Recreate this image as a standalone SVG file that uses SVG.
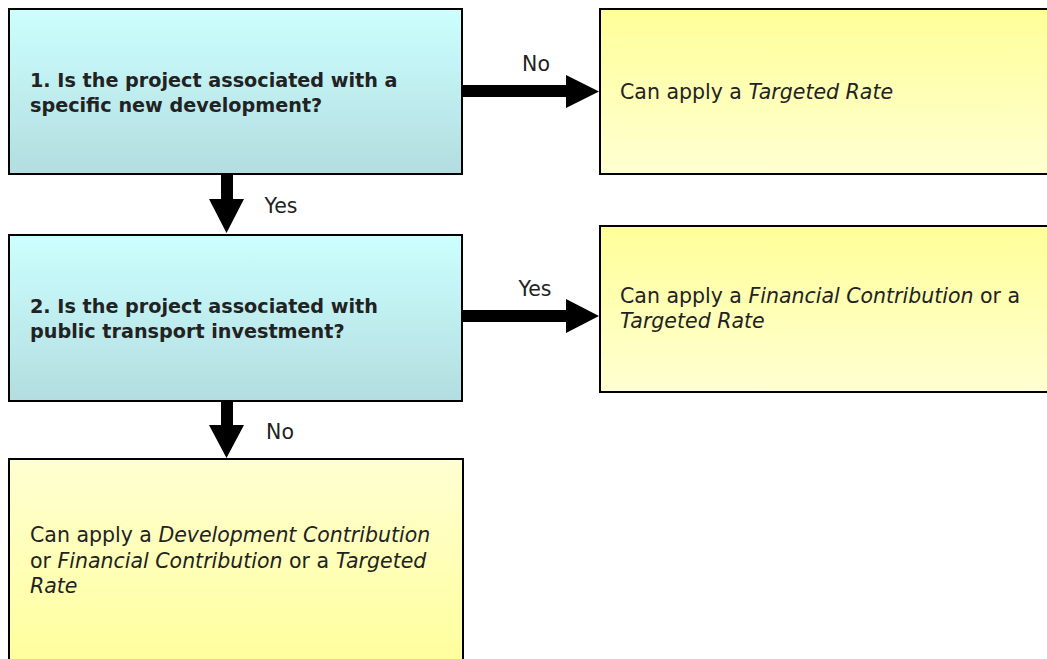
<svg xmlns="http://www.w3.org/2000/svg" width="1047" height="659" viewBox="0 0 1047 659">
<defs>
<linearGradient id="cyan" x1="0" y1="0" x2="0" y2="1"><stop offset="0" stop-color="#ccffff"/><stop offset="1" stop-color="#b3dde0"/></linearGradient>
<linearGradient id="yel" x1="0" y1="0" x2="0" y2="1"><stop offset="0" stop-color="#ffff99"/><stop offset="1" stop-color="#ffffd2"/></linearGradient>
<linearGradient id="yelr" x1="0" y1="0" x2="0" y2="1"><stop offset="0" stop-color="#ffffd2"/><stop offset="1" stop-color="#ffff99"/></linearGradient>
<style>
.box{stroke:#000;stroke-width:2}
.q{font-family:"DejaVu Sans",sans-serif;font-weight:bold;font-size:19.2px;fill:#222}
.t{font-family:"DejaVu Sans",sans-serif;font-size:20.5px;fill:#222}
.i{font-style:italic}
.lbl{font-family:"DejaVu Sans",sans-serif;font-size:20.5px;fill:#222;text-anchor:middle}
.shaft{fill:#000}
</style>
</defs>
<g id="q1">
<rect class="box" x="9" y="9" width="453" height="165" fill="url(#cyan)"/>
<text class="q" x="30" y="87">1. Is the project associated with a</text>
<text class="q" x="30" y="112">specific new development?</text>
</g>
<g id="r1">
<rect class="box" x="600" y="9" width="460" height="165" fill="url(#yel)"/>
<text class="t" x="620" y="99">Can apply a <tspan class="i">Targeted Rate</tspan></text>
</g>
<g id="q2">
<rect class="box" x="9" y="235" width="453" height="166" fill="url(#cyan)"/>
<text class="q" x="30" y="313">2. Is the project associated with</text>
<text class="q" x="30" y="338">public transport investment?</text>
</g>
<g id="r2">
<rect class="box" x="600" y="226" width="460" height="166" fill="url(#yel)"/>
<text class="t" x="620" y="303">Can apply a <tspan class="i">Financial Contribution</tspan> or a</text>
<text class="t" x="620" y="328"><tspan class="i">Targeted Rate</tspan></text>
</g>
<g id="r3">
<rect class="box" x="9" y="459" width="454" height="220" fill="url(#yelr)"/>
<text class="t" x="30" y="542">Can apply a <tspan class="i">Development Contribution</tspan></text>
<text class="t" x="30" y="568">or <tspan class="i">Financial Contribution</tspan> or a <tspan class="i">Targeted</tspan></text>
<text class="t" x="30" y="593"><tspan class="i">Rate</tspan></text>
</g>
<g id="connectors">
<path class="shaft" d="M463 85 H566 V75 L599 91.5 L566 108 V97 H463 Z"/>
<path class="shaft" d="M463 310 H566 V299 L599 316 L566 333 V322 H463 Z"/>
<path class="shaft" d="M221 175 V199 H209 L226.5 233 L244 199 H233 V175 Z"/>
<path class="shaft" d="M221 402 V425 H209 L226.5 458 L244 425 H233 V402 Z"/>
<text class="lbl" x="536" y="71">No</text>
<text class="lbl" x="281" y="213">Yes</text>
<text class="lbl" x="535" y="296">Yes</text>
<text class="lbl" x="280" y="439">No</text>
</g>
</svg>
